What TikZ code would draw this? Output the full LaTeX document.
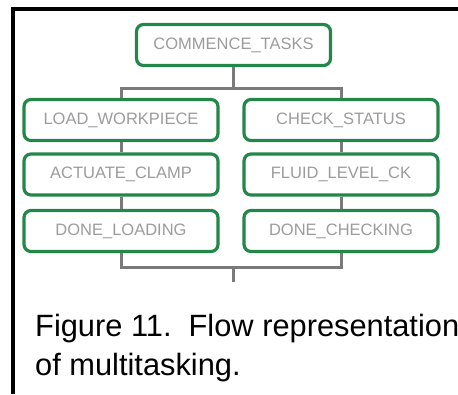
\documentclass[tikz,border=0pt]{standalone}
\usepackage{fontspec}
\setmainfont{Liberation Sans}
\definecolor{boxgreen}{HTML}{24874A}
\definecolor{linkgray}{HTML}{7A7A7A}
\definecolor{labelgray}{HTML}{9C9C9C}
\begin{document}
\begin{tikzpicture}[x=1pt,y=-1pt,
  task/.style={draw=boxgreen, line width=3.2pt, rounded corners=7pt, fill=white,
    minimum width=194pt, minimum height=41pt, inner sep=0pt,
    text=labelgray, font=\fontsize{16.5}{19}\selectfont},
  link/.style={draw=linkgray, line width=3pt},
  frame/.style={draw=black, line width=3.5pt},
  caption/.style={anchor=base west, inner sep=0pt, font=\fontsize{30.8}{39}\selectfont}]
  \useasboundingbox (0,0) rectangle (458,394);

  % page rules
  \coordinate (ftl) at (13,9);
  \coordinate (ftr) at (458,9);
  \coordinate (fbl) at (13,394);
  \draw[frame] (ftr) -- (ftl) -- (fbl);

  % task boxes
  \node[task] (start) at (233.5,45) {COMMENCE\_TASKS};
  \node[task] (load)  at (121,120) {LOAD\_WORKPIECE};
  \node[task] (check) at (341,120) {CHECK\_STATUS};
  \node[task] (clamp) at (121,174.5) {ACTUATE\_CLAMP};
  \node[task] (fluid) at (341,174.5) {FLUID\_LEVEL\_CK};
  \node[task] (doneL) at (121,231) {DONE\_LOADING};
  \node[task] (doneC) at (341,231) {DONE\_CHECKING};

  % fork and join bars
  \coordinate (fork) at (233.5,88);
  \coordinate (join) at (233.5,267);
  \coordinate (exit) at (233.5,282);

  \draw[link] (start.south) -- (fork);
  \draw[link] (load.north) |- (fork) -| (check.north);
  \draw[link] (load) -- (clamp);
  \draw[link] (clamp) -- (doneL);
  \draw[link] (check) -- (fluid);
  \draw[link] (fluid) -- (doneC);
  \draw[link] (doneL.south) |- (join) -| (doneC.south);
  \draw[link] (join) -- (exit);

  % caption
  \node[caption] (cap1) at (35,336) {Figure 11.\ \ Flow representation};
  \node[caption] (cap2) at (35,375) {of multitasking.};
\end{tikzpicture}
\end{document}
